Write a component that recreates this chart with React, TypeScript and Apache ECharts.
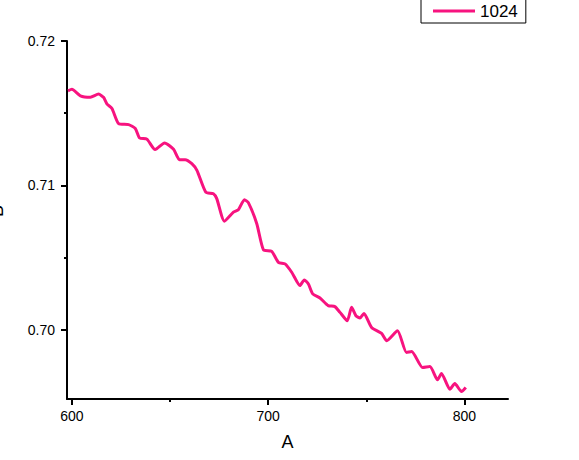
import React, { useEffect, useRef } from "react";
import * as echarts from "echarts";

const seriesName = "1024";
const xValues = [
  598, 600, 604.3, 609.4, 613.6, 616.1, 617.9, 620.4, 623.8, 628.9, 632.3, 634.5, 638.2,
  642.4, 647.2, 651.8, 654.8, 657.7, 661.1, 663.7, 668.2, 672.1, 673.8, 677.7, 682.3,
  684.8, 687.9, 689.9, 694.2, 697.6, 701.8, 705.2, 708.6, 712.0, 716.2, 718.4, 720.5,
  722.7, 726.4, 730.6, 734.0, 736.6, 740.3, 742.5, 744.7, 746.8, 748.8, 752.7, 757.8,
  760.4, 765.9, 770.5, 773.1, 778.7, 782.4, 786.3, 788.3, 792.6, 795.1, 798.5, 800.7,
];
const yValues = [
  0.71655, 0.71665, 0.7162, 0.7161, 0.71632, 0.7161, 0.71563, 0.71533, 0.71428, 0.71421,
  0.71394, 0.71328, 0.7132, 0.71248, 0.71294, 0.7125, 0.71178, 0.71178, 0.7115, 0.71104,
  0.70953, 0.70942, 0.70908, 0.70752, 0.70815, 0.70831, 0.70901, 0.7088, 0.70734,
  0.70553, 0.70542, 0.70467, 0.70456, 0.70398, 0.70306, 0.70345, 0.70317, 0.70248,
  0.7022, 0.70167, 0.7016, 0.7012, 0.70062, 0.70155, 0.70097, 0.70081, 0.70113, 0.70016,
  0.69974, 0.69924, 0.69993, 0.69842, 0.69849, 0.69738, 0.69745, 0.69653, 0.69697,
  0.69588, 0.69627, 0.69572, 0.696,
];
const xMajorTicks = [600, 700, 800];
const xMinorTicks = [650, 750];
const yMajorTicks = [0.7, 0.71, 0.72];
const yMinorTicks = [0.705, 0.715];

const FONT = "'Liberation Sans', Arial, sans-serif";
const LINE_COLOR = "#f7137f";

export default function App() {
  const ref = useRef<HTMLDivElement>(null);
  useEffect(() => {
    if (!ref.current) return;
    const chart = echarts.init(ref.current, null, { renderer: "svg" });
    const xMin = 597.5;
    const xMax = 822.2;
    const yMin = 0.6952;
    const yMax = 0.72;
    const axisLine = { show: true, lineStyle: { color: "#000", width: 2 } };
    chart.setOption({
      animation: false,
      backgroundColor: "#fff",
      grid: { left: 67, top: 41, width: 441, height: 358, containLabel: false },
      legend: {
        data: [{ name: seriesName, icon: "rect" }],
        left: 421,
        top: -1,
        orient: "horizontal",
        padding: [3, 8, 3, 12],
        borderColor: "#000",
        borderWidth: 1,
        itemWidth: 42,
        itemHeight: 3,
        itemGap: 5,
        itemStyle: { color: LINE_COLOR },
        textStyle: { fontFamily: FONT, fontSize: 17, color: "#000", lineHeight: 18 },
      },
      xAxis: [
        {
          type: "value",
          min: xMin,
          max: xMax,
          position: "bottom",
          axisLine,
          axisTick: { show: true, customValues: xMajorTicks, length: 6, lineStyle: { color: "#000", width: 2 } },
          axisLabel: { customValues: xMajorTicks, fontFamily: FONT, fontSize: 14, color: "#000", margin: 10 },
          splitLine: { show: false },
          name: "A",
          nameLocation: "middle",
          nameGap: 34,
          nameTextStyle: { fontFamily: FONT, fontSize: 18, color: "#000" },
        },
        {
          type: "value",
          min: xMin,
          max: xMax,
          position: "bottom",
          axisLine: { show: false },
          axisTick: { show: true, customValues: xMinorTicks, length: 3, lineStyle: { color: "#000", width: 2 } },
          axisLabel: { show: false },
          splitLine: { show: false },
        },
      ],
      yAxis: [
        {
          type: "value",
          min: yMin,
          max: yMax,
          position: "left",
          axisLine,
          axisTick: { show: true, customValues: yMajorTicks, length: 6, lineStyle: { color: "#000", width: 2 } },
          axisLabel: {
            customValues: yMajorTicks,
            fontFamily: FONT,
            fontSize: 14,
            color: "#000",
            margin: 12,
            formatter: (v: number) => v.toFixed(2),
          },
          splitLine: { show: false },
        },
        {
          type: "value",
          min: yMin,
          max: yMax,
          position: "left",
          axisLine: { show: false },
          axisTick: { show: true, customValues: yMinorTicks, length: 3, lineStyle: { color: "#000", width: 2 } },
          axisLabel: { show: false },
          splitLine: { show: false },
        },
      ],
      graphic: [
        {
          type: "text",
          x: 6,
          y: 211,
          rotation: Math.PI / 2,
          style: {
            text: "B",
            fontFamily: FONT,
            fontSize: 18,
            fill: "#000",
            textAlign: "center",
            textVerticalAlign: "bottom",
          },
        },
      ],
      series: [
        {
          name: seriesName,
          type: "line",
          xAxisIndex: 0,
          yAxisIndex: 0,
          data: xValues.map((x, i) => [x, yValues[i]]),
          showSymbol: false,
          symbol: "none",
          smooth: 0.2,
          lineStyle: { color: LINE_COLOR, width: 3 },
          itemStyle: { color: LINE_COLOR },
        },
      ],
    });
    return () => chart.dispose();
  }, []);
  return (
    <div
      ref={ref}
      style={{ position: "absolute", left: 0, top: 0, width: 579, height: 460 }}
    />
  );
}
